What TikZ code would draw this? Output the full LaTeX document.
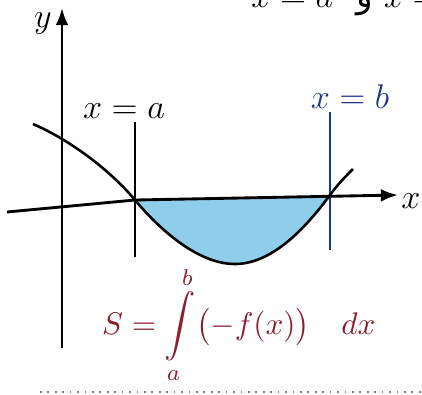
\documentclass[tikz,border=0pt]{standalone}
\usepackage{amsmath}
\usepackage{fontspec}
\newfontfamily\arabicfont[Script=Arabic]{DejaVu Sans}
\usetikzlibrary{arrows.meta, positioning, calc}
\definecolor{areablue}{RGB}{142,206,234}
\definecolor{boundblue}{RGB}{30,55,140}
\definecolor{formulared}{RGB}{140,30,45}

\begin{document}
\begin{tikzpicture}[
        x=0.35pt, y=-0.35pt,
        axis/.style={line width=1pt, -{Latex[length=6pt, width=4.5pt]}},
        curveline/.style={line width=0.9pt},
        bound/.style={line width=0.7pt},
        lbl/.style={font=\large, inner sep=1pt}
    ]
        \useasboundingbox (0,0) rectangle (422,394);
        \coordinate (xstart) at (7,212);
        \coordinate (A) at (135,200);
        \coordinate (B) at (330,195);
        \coordinate (xend) at (398,195);
        \coordinate (ybot) at (62,348);
        \coordinate (ytop) at (62,8);
        \coordinate (atop) at (135,122);
        \coordinate (abot) at (135,257);
        \coordinate (btop) at (330,112);
        \coordinate (bbot) at (330,250);

        % shaded area under the axis
        \fill[areablue] (A) .. controls (155,224) and (195,264) .. (235,264)
            .. controls (275,264) and (310,222) .. (B) -- cycle;

        \draw[axis] (xstart) -- (A) -- (xend);
        \draw[axis] (ybot) -- (ytop);
        \draw[bound] (atop) -- (abot);
        \draw[bound, boundblue] (btop) -- (bbot);

        % graph of f
        \draw[curveline] (33,124) .. controls (70,140) and (110,170) .. (A)
            .. controls (155,224) and (195,264) .. (235,264)
            .. controls (275,264) and (310,222) .. (B)
            .. controls (338,184) and (345,177) .. (353,169);

        \node (xlab) [lbl] at (411,201) {$x$};
        \node (ylab) [lbl] at (43,23) {$y$};
        \node (alab) [lbl] at (124,111) {$x = a$};
        \node (blab) [lbl, text=boundblue] at (350,97) {$x = b$};
        \node (area) [font=\fontsize{11}{13}\selectfont, text=formulared, anchor=west] at (92,325)
            {$S = \displaystyle\int\limits_a^b \bigl(-f(x)\bigr)\quad dx$};
        \node (toptext) [lbl, anchor=base west] at (248,7)
            {$x = a$\hspace{8pt}{\arabicfont و}\hspace{4pt}$x = b$};

        \draw[dotted, line width=0.6pt, gray] (40,392) -- (422,392);
    \end{tikzpicture}
\end{document}
